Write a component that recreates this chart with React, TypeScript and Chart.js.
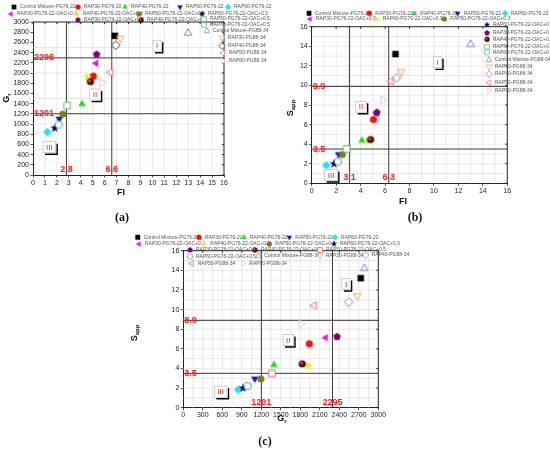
import React, { useEffect, useRef } from 'react';
import { Chart, registerables } from 'chart.js';

Chart.register(...registerables);

// ---------------- data ----------------
const seriesNames = [
  'Control Mixture-PG76-22', 'RAP30-PG76-22', 'RAP40-PG76-22', 'RAP50-PG76-22', 'RAP60-PG76-22',
  'RAP30-PG76-22-OAC+0.3', 'RAP40-PG76-22-OAC+0.3', 'RAP50-PG76-22-OAC+0.3', 'RAP60-PG76-22-OAC+0.3',
  'RAP30-PG76-22-OAC+0.5', 'RAP40-PG76-22-OAC+0.5', 'RAP50-PG76-22-OAC+0.5', 'RAP60-PG76-22-OAC+0.5',
  'Control Mixture-PG88-34', 'RAP30-PG88-34', 'RAP40-PG88-34', 'RAP50-PG88-34', 'RAP60-PG88-34',
];
const fiValues = [6.85, 5.05, 4.1, 2.2, 1.2, 5.28, 4.55, 2.5, 1.82, 5.33, 4.81, 2.86, 2.16, 13.0, 7.32, 6.93, 6.5, 5.81];
const grValues = [2730, 1938, 1394, 1100, 843, 2190, 1923, 1193, 918, 2365, 1830, 1362, 988, 2785, 2678, 2543, 2013, 1814];
const sappValues = [13.2, 6.52, 4.38, 2.95, 1.84, 7.14, 4.29, 2.94, 2.0, 7.23, 4.47, 3.5, 2.22, 14.2, 11.4, 10.77, 10.42, 8.55];

const fiTicksA = [0, 16, 1];
const fiTicksB = [0, 16, 2];
const grTicksA = [0, 3000, 200];
const grTicksC = [0, 3000, 300];
const sappTicks = [0, 16, 2];

const thresholdsA = { x: [2.8, 6.6], y: [1201, 2296], xText: ['2.8', '6.6'], yText: ['1201', '2296'] };
const thresholdsB = { x: [3.1, 6.3], y: [3.5, 9.9], xText: ['3.1', '6.3'], yText: ['3.5', '9.9'] };
const thresholdsC = { x: [1201, 2295], y: [3.5, 8.9], xText: ['1201', '2295'], yText: ['3.5', '8.9'] };
const regionNames = ['I', 'II', 'III'];

// ---------------- styles ----------------
const markerShapes = ['square', 'circle', 'triUp', 'triDown', 'diamond', 'triLeft', 'triRight', 'circle', 'star',
  'pentagon', 'sphere', 'square', 'circle', 'triUp', 'triDown', 'diamond', 'triLeft', 'triRight'];
const markerOpen = [false, false, false, false, false, false, false, false, false, false, false, true, true, true, true, true, true, true];
const markerColors = ['#000000', '#ff0a0a', '#1ee01e', '#1414c8', '#1ee6f0', '#f014f0', '#f0f014', '#7d7d0f', '#0a0a6e',
  '#7d007d', '#8c0a0a', '#55b455', '#3aa0be', '#6e6ec8', '#ff9646', '#a064c8', '#ff5096', '#c8c8c8'];
const colorOverrides: Record<string, Record<number, string>> = { a: { 15: '#222222' }, b: {}, c: { 11: '#ff4b4b' } };

const FONT = "'Liberation Sans', Arial, sans-serif";

type Panel = {
  id: string;
  xs: number[]; ys: number[];
  xTicks: number[]; yTicks: number[];
  area: number[]; // left, top, right, bottom
  xGrid: number; yGrid: number;
  th: { x: number[]; y: number[]; xText: string[]; yText: string[] };
  regions: number[][];
  legend: number[][];
  xTitle: [string, string, number, number];
  yTitle: [string, string, number, number];
  label: [string, number, number];
};

const panels: Panel[] = [
  {
    id: 'a', xs: fiValues, ys: grValues, xTicks: fiTicksA, yTicks: grTicksA,
    area: [33, 22, 224, 175], xGrid: 1, yGrid: 500, th: thresholdsA,
    regions: [[10.4, 2535], [5.19, 1578], [1.37, 545]],
    legend: [[0, 14, 7], [1, 78, 7], [2, 125, 7], [3, 180, 7], [4, 228, 7],
      [5, 11, 14], [6, 77, 14], [7, 139, 14], [8, 202, 14],
      [9, 78, 20], [10, 141, 20],
      [11, 204, 19], [12, 204, 25], [13, 207, 31], [14, 222, 38], [15, 222, 46], [16, 223, 53], [17, 223, 61]],
    xTitle: ['FI', '', 121, 193], yTitle: ['G', 'r', 7, 98], label: ['(a)', 122, 218],
  },
  {
    id: 'b', xs: fiValues, ys: sappValues, xTicks: fiTicksB, yTicks: sappTicks,
    area: [311.7, 26.7, 507.3, 183.3], xGrid: 1, yGrid: 1, th: thresholdsB,
    regions: [[10.28, 12.36], [4.03, 7.82], [1.58, 0.85]],
    legend: [[0, 309, 13.3], [1, 369.3, 13.3], [2, 414.3, 13.3], [3, 457.7, 13.3], [4, 505, 13.3],
      [5, 310, 19], [6, 376.7, 19], [7, 444.3, 19],
      [8, 487, 25], [9, 487, 33], [10, 487, 39.3], [11, 487, 46.7], [12, 487, 52.3], [13, 489, 60],
      [14, 489, 66.7], [15, 489, 74], [16, 489, 82.7], [17, 489, 90.7]],
    xTitle: ['FI', '', 403, 202], yTitle: ['S', 'app', 291, 108], label: ['(b)', 415, 218],
  },
  {
    id: 'c', xs: grValues, ys: sappValues, xTicks: grTicksC, yTicks: sappTicks,
    area: [183.3, 250.7, 378.3, 407.7], xGrid: 150, yGrid: 1, th: thresholdsC,
    regions: [[2503, 12.6], [1615, 6.9], [575, 1.63]],
    legend: [[0, 137.7, 237.3], [1, 199, 237.3], [2, 244, 237.3], [3, 289.3, 237.3], [4, 335, 237.3],
      [5, 139, 244], [6, 204.3, 244], [7, 269.3, 244], [8, 334, 244],
      [9, 190, 250], [10, 255, 250], [11, 320, 250],
      [12, 190, 256.5], [13, 258.3, 256], [14, 320, 255.5], [15, 365.7, 255],
      [16, 191.7, 263.5], [17, 243.3, 263.3]],
    xTitle: ['G', 'r', 282, 419], yTitle: ['S', 'app', 135, 333], label: ['(c)', 265, 442],
  },
];

// ---------------- marker drawing ----------------
function drawShape(ctx: CanvasRenderingContext2D, shape: string, cx: number, cy: number, r: number, color: string, open: boolean) {
  ctx.beginPath();
  const poly = (n: number, rot: number, rad: number) => {
    for (let i = 0; i < n; i++) {
      const a = rot + (i * 2 * Math.PI) / n;
      const px = cx + rad * Math.cos(a);
      const py = cy + rad * Math.sin(a);
      if (i) ctx.lineTo(px, py); else ctx.moveTo(px, py);
    }
    ctx.closePath();
  };
  switch (shape) {
    case 'square': ctx.rect(cx - r * 0.9, cy - r * 0.9, r * 1.8, r * 1.8); break;
    case 'circle': case 'sphere': ctx.arc(cx, cy, r, 0, Math.PI * 2); break;
    case 'triUp': poly(3, -Math.PI / 2, r * 1.2); break;
    case 'triDown': poly(3, Math.PI / 2, r * 1.2); break;
    case 'triLeft': poly(3, Math.PI, r * 1.2); break;
    case 'triRight': poly(3, 0, r * 1.2); break;
    case 'diamond': poly(4, -Math.PI / 2, r * 1.2); break;
    case 'pentagon': poly(5, -Math.PI / 2, r * 1.1); break;
    case 'star': {
      for (let i = 0; i < 10; i++) {
        const a = -Math.PI / 2 + (i * Math.PI) / 5;
        const rad = i % 2 === 0 ? r * 1.3 : r * 0.55;
        const px = cx + rad * Math.cos(a);
        const py = cy + rad * Math.sin(a);
        if (i) ctx.lineTo(px, py); else ctx.moveTo(px, py);
      }
      ctx.closePath();
      break;
    }
  }
  if (open) {
    ctx.fillStyle = '#ffffff';
    ctx.fill();
    ctx.lineWidth = 0.9;
    ctx.strokeStyle = color;
    ctx.stroke();
  } else if (shape === 'sphere') {
    const g = ctx.createRadialGradient(cx - r * 0.35, cy - r * 0.35, 0, cx, cy, r);
    g.addColorStop(0, '#f0a0a0');
    g.addColorStop(0.45, color);
    g.addColorStop(1, '#2a0000');
    ctx.fillStyle = g;
    ctx.fill();
  } else {
    ctx.fillStyle = color;
    ctx.fill();
  }
}

function makeMarker(i: number, panelId: string): HTMLCanvasElement {
  const size = 12;
  const c = document.createElement('canvas');
  c.width = size;
  c.height = size;
  const ctx = c.getContext('2d')!;
  const color = colorOverrides[panelId][i] || markerColors[i];
  drawShape(ctx, markerShapes[i], size / 2, size / 2, 3.6, color, markerOpen[i]);
  return c;
}

// ---------------- decoration plugin ----------------
function makeDecor(p: Panel, markers: HTMLCanvasElement[]) {
  const line = (ctx: CanvasRenderingContext2D, x1: number, y1: number, x2: number, y2: number) => {
    ctx.beginPath(); ctx.moveTo(x1, y1); ctx.lineTo(x2, y2); ctx.stroke();
  };
  const drawTitle = (ctx: CanvasRenderingContext2D, t: [string, string, number, number], rotate: boolean) => {
    const [main, sub, cx, cy] = t;
    ctx.save();
    ctx.translate(cx, cy);
    if (rotate) ctx.rotate(-Math.PI / 2);
    ctx.font = `bold 9px ${FONT}`;
    const w1 = ctx.measureText(main).width;
    ctx.font = `bold 6px ${FONT}`;
    const w2 = sub ? ctx.measureText(sub).width : 0;
    const x0 = -(w1 + w2) / 2;
    ctx.fillStyle = '#111';
    ctx.textAlign = 'left';
    ctx.textBaseline = 'middle';
    ctx.font = `bold 9px ${FONT}`;
    ctx.fillText(main, x0, 0);
    if (sub) {
      ctx.font = `bold 6px ${FONT}`;
      ctx.fillText(sub, x0 + w1, 2.8);
    }
    ctx.restore();
  };
  return {
    id: 'decor-' + p.id,
    beforeDatasetsDraw(chart: any) {
      const { ctx, chartArea: a } = chart;
      const xs = chart.scales.x, ys = chart.scales.y;
      ctx.save();
      ctx.strokeStyle = '#e0e0e0';
      ctx.lineWidth = 0.7;
      for (let v = p.xTicks[0] + p.xGrid; v < p.xTicks[1] - 1e-9; v += p.xGrid) {
        const px = xs.getPixelForValue(v);
        line(ctx, px, a.top, px, a.bottom);
      }
      for (let v = p.yTicks[0] + p.yGrid; v < p.yTicks[1] - 1e-9; v += p.yGrid) {
        const py = ys.getPixelForValue(v);
        line(ctx, a.left, py, a.right, py);
      }
      ctx.strokeStyle = '#3a3a3a';
      ctx.lineWidth = 1;
      p.th.x.forEach((v) => { const px = xs.getPixelForValue(v); line(ctx, px, a.top, px, a.bottom); });
      p.th.y.forEach((v) => { const py = ys.getPixelForValue(v); line(ctx, a.left, py, a.right, py); });
      ctx.restore();
    },
    afterDatasetsDraw(chart: any) {
      const { ctx, chartArea: a } = chart;
      const xs = chart.scales.x, ys = chart.scales.y;
      ctx.save();
      // frame top / right with inward ticks
      ctx.strokeStyle = '#222';
      ctx.lineWidth = 1;
      line(ctx, a.left, a.top, a.right, a.top);
      line(ctx, a.right, a.top, a.right, a.bottom);
      for (let v = p.xTicks[0]; v <= p.xTicks[1] + 1e-9; v += p.xTicks[2]) {
        const px = xs.getPixelForValue(v);
        line(ctx, px, a.top, px, a.top + 2);
      }
      for (let v = p.yTicks[0]; v <= p.yTicks[1] + 1e-9; v += p.yTicks[2]) {
        const py = ys.getPixelForValue(v);
        line(ctx, a.right, py, a.right - 2, py);
      }
      // threshold labels
      ctx.fillStyle = '#ff1a1a';
      ctx.font = `bold 9px ${FONT}`;
      ctx.textAlign = 'left';
      ctx.textBaseline = 'middle';
      p.th.y.forEach((v, i) => ctx.fillText(p.th.yText[i], a.left + 1, ys.getPixelForValue(v)));
      ctx.textAlign = 'center';
      ctx.textBaseline = 'bottom';
      p.th.x.forEach((v, i) => ctx.fillText(p.th.xText[i], xs.getPixelForValue(v), a.bottom - 1));
      // region boxes
      ctx.font = `8px ${FONT}`;
      p.regions.forEach(([vx, vy], i) => {
        const cx = xs.getPixelForValue(vx);
        const cy = ys.getPixelForValue(vy);
        const txt = regionNames[i];
        const w = ctx.measureText(txt).width + 6;
        const h = 11;
        ctx.strokeStyle = '#000';
        ctx.lineWidth = 1.4;
        ctx.beginPath();
        ctx.moveTo(cx - w / 2 + 2, cy + h / 2 + 1.5);
        ctx.lineTo(cx + w / 2 + 1.5, cy + h / 2 + 1.5);
        ctx.lineTo(cx + w / 2 + 1.5, cy - h / 2 + 2);
        ctx.stroke();
        ctx.fillStyle = '#fff';
        ctx.fillRect(cx - w / 2, cy - h / 2, w, h);
        ctx.strokeStyle = '#bbb';
        ctx.lineWidth = 0.7;
        ctx.strokeRect(cx - w / 2, cy - h / 2, w, h);
        ctx.fillStyle = '#ff2020';
        ctx.textAlign = 'center';
        ctx.textBaseline = 'middle';
        ctx.fillText(txt, cx, cy + 0.5);
      });
      ctx.restore();
    },
    afterDraw(chart: any) {
      const { ctx } = chart;
      ctx.save();
      // legend
      ctx.font = `5px ${FONT}`;
      ctx.fillStyle = '#555';
      ctx.textAlign = 'left';
      ctx.textBaseline = 'middle';
      p.legend.forEach(([si, mx, my]) => {
        ctx.drawImage(markers[si], mx - 4.5, my - 4.5, 9, 9);
        ctx.fillText(seriesNames[si], mx + 6, my);
      });
      drawTitle(ctx, p.xTitle, false);
      drawTitle(ctx, p.yTitle, true);
      ctx.font = `bold 12px 'Liberation Serif', serif`;
      ctx.fillStyle = '#111';
      ctx.textAlign = 'center';
      ctx.textBaseline = 'middle';
      ctx.fillText(p.label[0], p.label[1], p.label[2]);
      ctx.restore();
    },
  };
}

function buildConfig(p: Panel): any {
  const markers = seriesNames.map((_, i) => makeMarker(i, p.id));
  const N = seriesNames.length;
  const yW = 26, xH = 12;
  const [l, t, r, b] = p.area;
  const tickFont = { size: 7, family: FONT };
  return {
    type: 'scatter',
    data: {
      datasets: seriesNames.map((name, i) => ({
        label: name,
        data: [{ x: p.xs[i], y: p.ys[i] }],
        pointStyle: markers[i],
        pointRadius: 4,
        order: N - i,
      })),
    },
    options: {
      animation: false,
      responsive: false,
      events: [],
      layout: { padding: { left: l - yW, top: t, right: 550 - r, bottom: 451 - b - xH } },
      plugins: { legend: { display: false }, tooltip: { enabled: false } },
      scales: {
        x: {
          type: 'linear', position: 'bottom', min: p.xTicks[0], max: p.xTicks[1],
          ticks: { stepSize: p.xTicks[2], autoSkip: false, maxRotation: 0, font: tickFont, color: '#222', padding: 1,
            callback: (v: number) => String(v) },
          grid: { drawOnChartArea: false, drawTicks: true, tickLength: 2.5, tickColor: '#222', lineWidth: 0.8 },
          border: { display: true, color: '#222', width: 1 },
          afterFit: (s: any) => { s.height = xH; },
        },
        y: {
          type: 'linear', position: 'left', min: p.yTicks[0], max: p.yTicks[1],
          ticks: { stepSize: p.yTicks[2], autoSkip: false, font: tickFont, color: '#222', padding: 1.5,
            callback: (v: number) => String(v) },
          grid: { drawOnChartArea: false, drawTicks: true, tickLength: 2.5, tickColor: '#222', lineWidth: 0.8 },
          border: { display: true, color: '#222', width: 1 },
          afterFit: (s: any) => { s.width = yW; },
        },
      },
    },
    plugins: [makeDecor(p, markers)],
  };
}

export default function App() {
  const r0 = useRef<HTMLCanvasElement>(null);
  const r1 = useRef<HTMLCanvasElement>(null);
  const r2 = useRef<HTMLCanvasElement>(null);
  const refs = [r0, r1, r2];
  useEffect(() => {
    const charts = panels.map((p, i) => new Chart(refs[i].current as HTMLCanvasElement, buildConfig(p)));
    return () => charts.forEach((c) => c.destroy());
  }, []);
  return (
    <div style={{ position: 'absolute', left: 0, top: 0, width: 550, height: 451, background: '#fff', overflow: 'hidden' }}>
      {panels.map((p, i) => (
        <canvas key={p.id} ref={refs[i]} width={550} height={451} style={{ position: 'absolute', left: 0, top: 0 }} />
      ))}
    </div>
  );
}
